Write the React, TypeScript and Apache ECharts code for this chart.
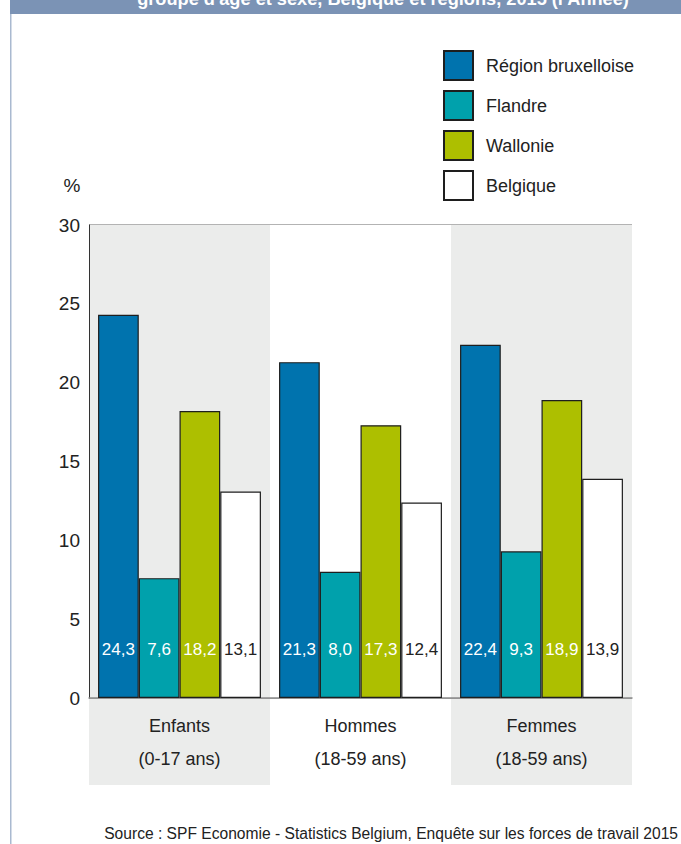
import React, { useEffect, useRef } from "react";
import * as echarts from "echarts";

const categories = ["Enfants\n(0-17 ans)", "Hommes\n(18-59 ans)", "Femmes\n(18-59 ans)"];
const seriesNames = ["Région bruxelloise", "Flandre", "Wallonie", "Belgique"];
const bruxelles = [24.3, 21.3, 22.4];
const flandre = [7.6, 8.0, 9.3];
const wallonie = [18.2, 17.3, 18.9];
const belgique = [13.1, 12.4, 13.9];
const seriesColors = ["#0073ae", "#00a1ac", "#adbf00", "#ffffff"];
const labelColors = ["#ffffff", "#ffffff", "#ffffff", "#222222"];
const yTicks = [0, 5, 10, 15, 20, 25, 30];
const titleText = "groupe d'âge et sexe, Belgique et régions, 2015 (l'Année)";
const sourceText = "Source : SPF Economie - Statistics Belgium, Enquête sur les forces de travail 2015";

const FONT = "'Liberation Sans Narrow', 'Arial Narrow', 'Liberation Sans', sans-serif";

const W = 681;
const H = 844;
const GRID = { left: 89, right: 49, top: 225, bottom: 146 };

export default function App() {
  const ref = useRef<HTMLDivElement>(null);
  useEffect(() => {
    if (!ref.current) return;
    const chart = echarts.init(ref.current, null, { renderer: "svg" });
    const values = [bruxelles, flandre, wallonie, belgique];
    const plotW = W - GRID.left - GRID.right;
    const catW = plotW / categories.length;
    const axisY = H - GRID.bottom;
    const bandRects = categories
      .map((_, i) => i)
      .filter((i) => i % 2 === 0)
      .map((i) => ({
        type: "rect",
        z: -10,
        silent: true,
        shape: { x: GRID.left + i * catW, y: axisY, width: catW, height: 87 },
        style: { fill: "#ebeceb" },
      }));
    chart.setOption({
      animation: false,
      textStyle: { fontFamily: FONT },
      grid: { ...GRID, containLabel: false },
      legend: {
        orient: "vertical",
        left: 438,
        top: 45,
        itemWidth: 29,
        itemHeight: 29,
        itemGap: 9,
        icon: "rect",
        selectedMode: false,
        textStyle: { fontFamily: FONT, fontSize: 18, color: "#222", padding: [0, 0, 0, 8] },
        data: seriesNames,
      },
      xAxis: {
        type: "category",
        data: categories,
        axisLine: { show: true, lineStyle: { color: "#8a8a8a", width: 1.5 } },
        axisTick: { show: false },
        splitArea: { show: true, areaStyle: { color: ["#ebeceb", "#ffffff"] } },
        axisLabel: {
          fontFamily: FONT,
          fontSize: 18,
          color: "#222",
          lineHeight: 33,
          margin: 11,
        },
      },
      yAxis: {
        type: "value",
        min: 0,
        max: 30,
        interval: 5,
        axisLine: { show: true, lineStyle: { color: "#333", width: 1 } },
        axisTick: { show: false },
        splitLine: { show: true, lineStyle: { color: "#9a9a9a", width: 1.5 } },
        axisLabel: {
          fontFamily: FONT,
          fontSize: 19,
          color: "#222",
          margin: 9,
          formatter: (v: number) => (yTicks.includes(v) ? String(v) : ""),
        },
      },
      series: seriesNames.map((name, si) => ({
        name,
        type: "bar",
        data: values[si],
        barGap: "0%",
        barCategoryGap: "10%",
        itemStyle: { color: seriesColors[si], borderColor: "#1e1e1e", borderWidth: 1.2 },
        label: {
          show: true,
          position: "insideBottom",
          distance: 40,
          fontFamily: FONT,
          fontSize: 17,
          color: labelColors[si],
          formatter: (p: any) => Number(p.value).toFixed(1).replace(".", ","),
        },
      })),
      graphic: [
        ...bandRects,
        {
          type: "rect",
          silent: true,
          shape: { x: 10, y: 0, width: W - 10, height: 14 },
          style: { fill: "#7b93b5" },
        },
        {
          type: "text",
          silent: true,
          x: 383,
          y: 8,
          style: {
            text: titleText,
            fill: "#ffffff",
            fontFamily: FONT,
            fontWeight: "bold",
            fontSize: 18.2,
            align: "center",
            verticalAlign: "bottom",
          },
        },
        {
          type: "rect",
          silent: true,
          shape: { x: 10, y: 14, width: 1.5, height: H - 14 },
          style: { fill: "#a9b9d0" },
        },
        {
          type: "text",
          silent: true,
          x: 72,
          y: 185,
          style: {
            text: "%",
            fill: "#222",
            fontFamily: FONT,
            fontSize: 19,
            align: "center",
            verticalAlign: "middle",
          },
        },
        {
          type: "text",
          silent: true,
          x: 678,
          y: 833,
          style: {
            text: sourceText,
            fill: "#222",
            fontFamily: FONT,
            fontSize: 15.6,
            align: "right",
            verticalAlign: "middle",
          },
        },
      ],
    });
    return () => chart.dispose();
  }, []);
  return (
    <div
      ref={ref}
      style={{ position: "fixed", left: 0, top: 0, width: W, height: H, background: "#fff" }}
    />
  );
}
